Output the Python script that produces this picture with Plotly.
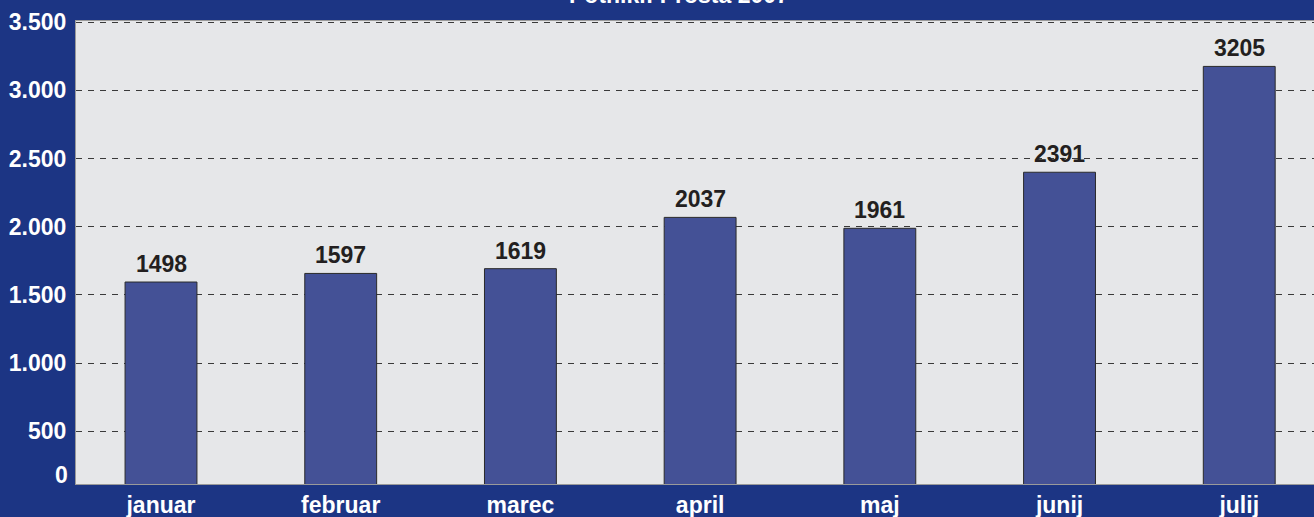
import plotly.graph_objects as go

months = ["januar", "februar", "marec", "april", "maj", "junij", "julij"]
# printed value labels
value_labels = ["1498", "1597", "1619", "2037", "1961", "2391", "3205"]
# bar heights
bar_heights = [1594, 1657, 1692, 2068, 1988, 2399, 3175]
tick_values = [500, 1000, 1500, 2000, 2500, 3000, 3500]
tick_text = ["500", "1.000", "1.500", "2.000", "2.500", "3.000", "3.500"]
title_text = "Potniki: Prosta 2007"

BG = "#1c3584"
PLOT_BG = "#e6e7e9"
BAR = "#445196"
FONT = "Liberation Sans, Arial, sans-serif"
FS = 23

fig = go.Figure()
fig.add_trace(go.Bar(
    x=months, y=bar_heights, width=0.4,
    marker=dict(color=BAR, line=dict(color="#2a2a2a", width=1)),
    hoverinfo="skip",
))

for m, h, t in zip(months, bar_heights, value_labels):
    fig.add_annotation(x=m, y=h, text=t, showarrow=False, yanchor="bottom",
                       yshift=3, font=dict(family=FONT, size=FS, color="#231f20", weight="bold"))

# "0" label near the bottom of the axis
fig.add_annotation(xref="paper", yref="paper", x=0, y=0, xanchor="right", yanchor="middle",
                   xshift=-6, yshift=9, text="0", showarrow=False,
                   font=dict(family=FONT, size=FS, color="white", weight="bold"))

# title, mostly cut off at the top edge as in the reference
fig.add_annotation(xref="paper", yref="paper", x=0.487, y=1, xanchor="center", yanchor="middle",
                   yshift=26, text=title_text, showarrow=False,
                   font=dict(family=FONT, size=FS, color="white", weight="bold"))

fig.update_layout(
    width=1314, height=517,
    margin=dict(l=76, r=0, t=21, b=33),
    paper_bgcolor=BG, plot_bgcolor=PLOT_BG,
    showlegend=False,
    font=dict(family=FONT, size=FS, color="white", weight="bold"),
    xaxis=dict(type="category", range=[-0.473, 6.416], showgrid=False, ticks="",
               showline=True, linecolor="#9a9a9a", linewidth=1, mirror=True,
               tickfont=dict(family=FONT, size=FS, color="white", weight="bold")),
    yaxis=dict(range=[113, 3508], tickvals=tick_values, ticktext=tick_text, ticks="",
               ticklabelstandoff=4,
               showgrid=True, gridcolor="#3a3a3a", gridwidth=1, griddash="6px,6px",
               zeroline=False, showline=True, linecolor="#9a9a9a", linewidth=1, mirror=True,
               tickfont=dict(family=FONT, size=FS, color="white", weight="bold")),
)

fig.write_html("out.html")
